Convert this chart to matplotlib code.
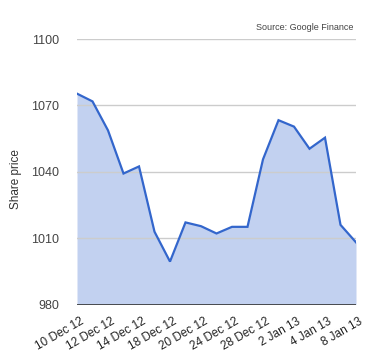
import matplotlib
matplotlib.use("Agg")
import matplotlib.pyplot as plt
import matplotlib.transforms as mtransforms
import numpy as np

plt.rcParams['font.family'] = ['Liberation Sans', 'DejaVu Sans']

prices = [1075.3, 1071.8, 1058.7, 1039.2, 1042.4, 1012.9, 999.4, 1017.1, 1015.4,
          1012.1, 1015.1, 1015.1, 1045.6, 1063.3, 1060.4, 1050.4, 1055.4, 1016.0, 1008.1]
tick_labels = ['10 Dec 12', '12 Dec 12', '14 Dec 12', '18 Dec 12', '20 Dec 12',
               '24 Dec 12', '28 Dec 12', '2 Jan 13', '4 Jan 13', '8 Jan 13']
y_ticks = [980, 1010, 1040, 1070, 1100]

x = np.arange(len(prices))

fig = plt.figure(figsize=(3.8, 3.6), dpi=100)
ax = fig.add_axes([77/380, 1 - 304.5/360, (356-77)/380, (304.5-39)/360])

ax.fill_between(x, prices, 980, color='#c2d1f0', linewidth=0, zorder=1)
ax.plot(x, prices, color='#3366cc', linewidth=1.6, zorder=3, solid_joinstyle='miter')

ax.set_xlim(0, len(prices) - 1)
ax.set_ylim(980, 1100)
ax.set_yticks(y_ticks)
ax.set_yticklabels([str(v) for v in y_ticks])
for v in y_ticks[1:]:
    ax.axhline(v, color='#cccccc', linewidth=1.0, zorder=2 if v < 1080 else 0)
ax.axhline(980, color='#333333', linewidth=1.2, zorder=4)

ax.set_xticks(x[::2])
ax.set_xticklabels(tick_labels, rotation=30, ha='right', va='top',
                   rotation_mode='anchor')
ax.tick_params(axis='x', length=0, pad=8, labelsize=8.5, colors='#222222')
ax.tick_params(axis='y', length=0, pad=13, labelsize=9, colors='#444444')
offset = mtransforms.ScaledTranslation(3/100, 0, fig.dpi_scale_trans)
for lbl in ax.get_xticklabels():
    lbl.set_transform(lbl.get_transform() + offset)
for s in ax.spines.values():
    s.set_visible(False)

fig.text(16/380, 1 - 179/360, 'Share price', rotation=90, ha='center', va='center',
         fontsize=8.5, color='#333333')

fig.text(353/380, 1 - 28/360, 'Source: Google Finance', ha='right', va='center',
         fontsize=6.5, color='#444444')

fig.savefig('out.png', dpi=100)
